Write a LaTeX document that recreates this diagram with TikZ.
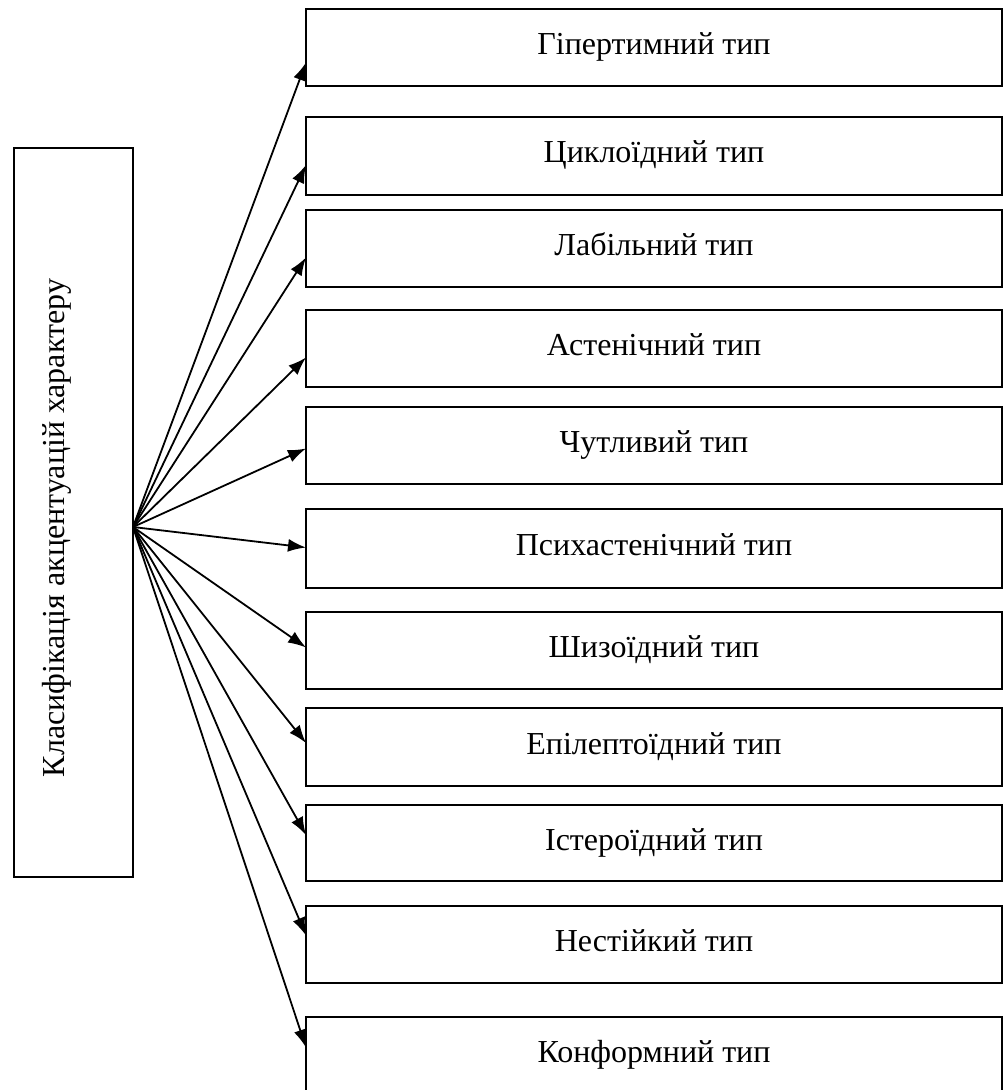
\documentclass[tikz,border=0pt]{standalone}
\usepackage{fontspec}
\setmainfont{Liberation Serif}
\usetikzlibrary{arrows.meta}

\tikzset{
  typebox/.style={draw, line width=1pt, anchor=north west, minimum width=348pt,
    inner sep=0pt, outer sep=0pt, text height=11pt, text depth=4pt,
    font=\fontsize{16}{19}\selectfont},
  link/.style={line width=0.9pt, -{Latex[length=9pt,width=6.5pt]}}
}

\begin{document}
\begin{tikzpicture}[x=0.5pt, y=-0.5pt]

\useasboundingbox (0,0) rectangle (1003,1090);

% left box
\node[draw, line width=1pt, anchor=north west, minimum width=59.5pt, minimum height=364.5pt,
  inner sep=0pt, outer sep=0pt] (klas) at (14,148) {};
\node[rotate=90, anchor=base, inner sep=0pt, font=\fontsize{16}{19}\selectfont] (klastext) at (64,528)
  {Класифікація акцентуацій характеру};
\coordinate (src) at (133,527);

% types
\node[typebox, minimum height=38.5pt] (t1) at (306,9) {Гіпертимний тип};
\node[typebox, minimum height=39pt] (t2) at (306,117) {Циклоїдний тип};
\node[typebox, minimum height=38.5pt] (t3) at (306,210) {Лабільний тип};
\node[typebox, minimum height=38.5pt] (t4) at (306,310) {Астенічний тип};
\node[typebox, minimum height=38.5pt] (t5) at (306,407) {Чутливий тип};
\node[typebox, minimum height=39.5pt] (t6) at (306,509) {Психастенічний тип};
\node[typebox, minimum height=38.5pt] (t7) at (306,612) {Шизоїдний тип};
\node[typebox, minimum height=39pt] (t8) at (306,708) {Епілептоїдний тип};
\node[typebox, minimum height=38pt] (t9) at (306,805) {Істероїдний тип};
\node[typebox, minimum height=38.5pt] (t10) at (306,906) {Нестійкий тип};
\node[typebox, minimum height=38.5pt] (t11) at (306,1017) {Конформний тип};

% arrows
\draw[link] (src) -- ([yshift=-7.5pt]t1.west);
\draw[link] (src) -- ([yshift=-4.5pt]t2.west);
\draw[link] (src) -- ([yshift=-4.5pt]t3.west);
\draw[link] (src) -- ([yshift=-4.5pt]t4.west);
\draw[link] (src) -- ([yshift=-1.5pt]t5.west);
\draw[link] (src) -- ([yshift=0.5pt]t6.west);
\draw[link] (src) -- ([yshift=1.5pt]t7.west);
\draw[link] (src) -- ([yshift=2pt]t8.west);
\draw[link] (src) -- ([yshift=4pt]t9.west);
\draw[link] (src) -- ([yshift=4.5pt]t10.west);
\draw[link] (src) -- ([yshift=4pt]t11.west);

\end{tikzpicture}
\end{document}
